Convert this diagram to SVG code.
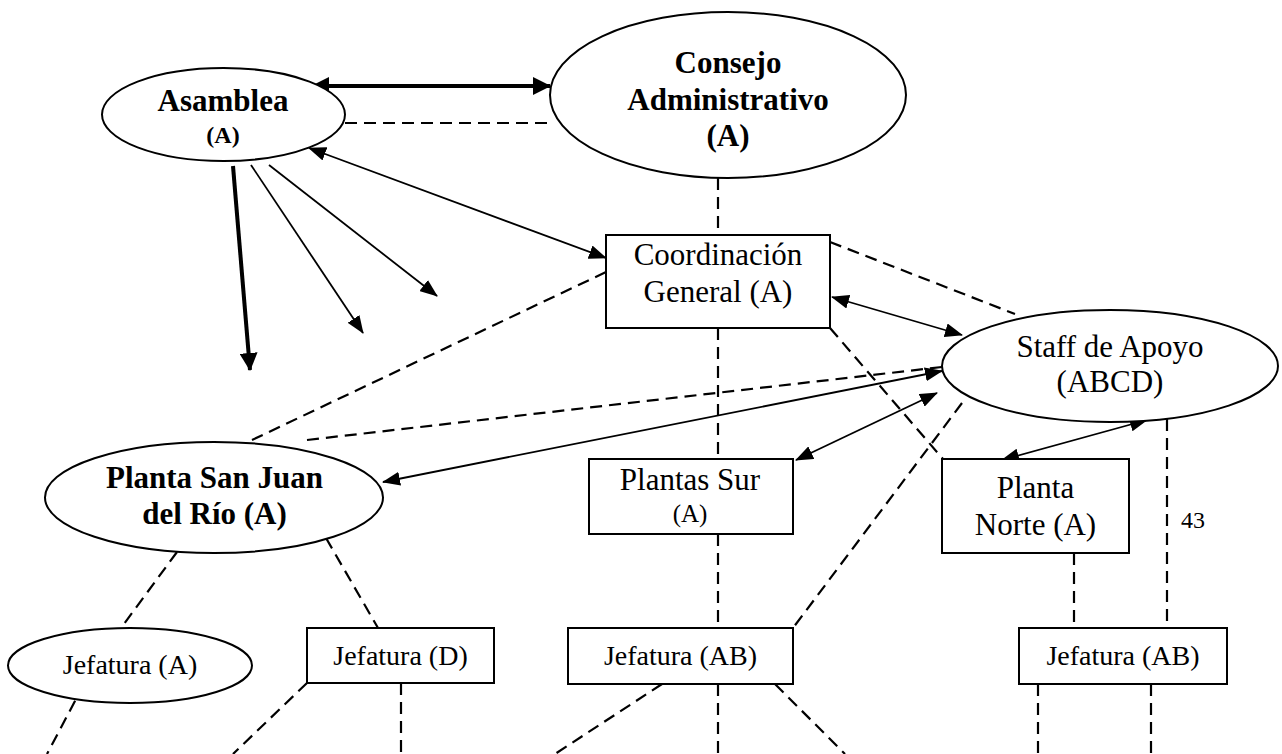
<svg xmlns="http://www.w3.org/2000/svg" width="1282" height="754" viewBox="0 0 1282 754">
  <style>
    .shape { fill: #ffffff; stroke: #000000; stroke-width: 2; }
    .lbl { font-family: "Liberation Serif", "Times New Roman", serif; fill: #000000; text-anchor: middle; }
    .b { font-weight: bold; }
    .f31 { font-size: 31px; }
    .f28 { font-size: 28px; }
    .f25 { font-size: 25px; }
    .f24 { font-size: 24px; }
    .dash { fill: none; stroke: #000000; stroke-width: 2.2; stroke-dasharray: 12 7; }
    .thin { fill: none; stroke: #000000; stroke-width: 1.8; }
    .thick { fill: none; stroke: #000000; stroke-width: 4; }
  </style>
  <defs>
    <marker id="ah" markerUnits="userSpaceOnUse" viewBox="0 0 18 14" markerWidth="18" markerHeight="14" refX="17" refY="7" orient="auto-start-reverse">
      <path d="M0,0 L18,7 L0,14 Z" fill="#000000"/>
    </marker>
    <marker id="ahb" markerUnits="userSpaceOnUse" viewBox="0 0 18 18" markerWidth="18" markerHeight="18" refX="17" refY="9" orient="auto-start-reverse">
      <path d="M0,0 L18,9 L0,18 Z" fill="#000000"/>
    </marker>
  </defs>

  <rect x="0" y="0" width="1282" height="754" fill="#ffffff"/>

  <!-- connectors -->
  <g id="connectors">
    <!-- Asamblea / Consejo -->
    <line class="thick" x1="312" y1="86" x2="550" y2="86" marker-start="url(#ahb)" marker-end="url(#ahb)"/>
    <line class="dash" x1="345" y1="123" x2="550" y2="123"/>
    <!-- arrows leaving Asamblea -->
    <line class="thick" x1="233" y1="166" x2="250" y2="370" marker-end="url(#ahb)"/>
    <line class="thin" x1="251" y1="165" x2="363" y2="333" marker-end="url(#ah)"/>
    <line class="thin" x1="269" y1="165" x2="437" y2="296" marker-end="url(#ah)"/>
    <line class="thin" x1="309" y1="148" x2="606" y2="258" marker-start="url(#ah)" marker-end="url(#ah)"/>
    <!-- Consejo to Coordinación -->
    <line class="dash" x1="718" y1="178" x2="718" y2="235"/>
    <!-- Coordinación links -->
    <line class="dash" x1="606" y1="272" x2="252" y2="440"/>
    <line class="dash" x1="830" y1="242" x2="1015" y2="314"/>
    <line class="thin" x1="832" y1="297" x2="962" y2="335" marker-start="url(#ah)" marker-end="url(#ah)"/>
    <line class="dash" x1="830" y1="328" x2="943" y2="459"/>
    <line class="dash" x1="718" y1="328" x2="718" y2="459"/>
    <line class="dash" x1="718" y1="534" x2="718" y2="628"/>
    <!-- Staff de Apoyo links -->
    <line class="dash" x1="307" y1="440" x2="942" y2="367"/>
    <line class="thin" x1="383" y1="482" x2="942" y2="371" marker-start="url(#ah)" marker-end="url(#ah)"/>
    <line class="thin" x1="796" y1="460" x2="937" y2="393" marker-start="url(#ah)" marker-end="url(#ah)"/>
    <line class="dash" x1="962" y1="403" x2="793" y2="628"/>
    <line class="thin" x1="1147" y1="420" x2="1002" y2="460" marker-start="url(#ah)" marker-end="url(#ah)"/>
    <line class="dash" x1="1167" y1="419" x2="1167" y2="628"/>
    <line class="dash" x1="1074" y1="553" x2="1074" y2="628"/>
    <!-- Planta San Juan del Río to its Jefaturas -->
    <line class="dash" x1="177" y1="552" x2="121" y2="628"/>
    <line class="dash" x1="326" y1="538" x2="378" y2="628"/>
    <!-- lines leaving the Jefaturas -->
    <line class="dash" x1="84" y1="684" x2="47" y2="754"/>
    <line class="dash" x1="307" y1="683" x2="233" y2="754"/>
    <line class="dash" x1="401" y1="683" x2="401" y2="754"/>
    <line class="dash" x1="662" y1="684" x2="555" y2="754"/>
    <line class="dash" x1="718" y1="684" x2="718" y2="754"/>
    <line class="dash" x1="775" y1="684" x2="845" y2="754"/>
    <line class="dash" x1="1038" y1="684" x2="1038" y2="754"/>
    <line class="dash" x1="1151" y1="684" x2="1151" y2="754"/>
  </g>

  <g id="asamblea">
    <ellipse class="shape" cx="223.5" cy="114.5" rx="121.5" ry="46.5"/>
    <text class="lbl b f31" x="223" y="111">Asamblea</text>
    <text class="lbl b f24" x="223" y="143">(A)</text>
  </g>

  <g id="consejo">
    <ellipse class="shape" cx="728" cy="95" rx="178" ry="83"/>
    <text class="lbl b f31" x="728" y="73">Consejo</text>
    <text class="lbl b f31" x="728" y="110">Administrativo</text>
    <text class="lbl b f31" x="728" y="146">(A)</text>
  </g>

  <g id="coordinacion">
    <rect class="shape" x="606" y="235" width="224" height="93"/>
    <text class="lbl f31" x="718" y="265">Coordinación</text>
    <text class="lbl f31" x="718" y="302">General (A)</text>
  </g>

  <g id="staff">
    <ellipse class="shape" cx="1110" cy="366" rx="168" ry="56"/>
    <text class="lbl f31" x="1110" y="357">Staff de Apoyo</text>
    <text class="lbl f31" x="1110" y="392">(ABCD)</text>
  </g>

  <g id="planta-san-juan">
    <ellipse class="shape" cx="214" cy="497.5" rx="169" ry="55.5"/>
    <text class="lbl b f31" x="214.5" y="488">Planta San Juan</text>
    <text class="lbl b f31" x="214.5" y="524">del Río (A)</text>
  </g>

  <g id="plantas-sur">
    <rect class="shape" x="589" y="459" width="204" height="75"/>
    <text class="lbl f31" x="690" y="490">Plantas Sur</text>
    <text class="lbl f25" x="690" y="522">(A)</text>
  </g>

  <g id="planta-norte">
    <rect class="shape" x="942" y="459" width="187" height="94"/>
    <text class="lbl f31" x="1035.5" y="498">Planta</text>
    <text class="lbl f31" x="1035.5" y="535">Norte (A)</text>
  </g>

  <g id="jefatura-a">
    <ellipse class="shape" cx="130" cy="665.5" rx="122" ry="37.5"/>
    <text class="lbl f28" x="130" y="674">Jefatura (A)</text>
  </g>

  <g id="jefatura-d">
    <rect class="shape" x="307" y="628" width="187" height="55"/>
    <text class="lbl f28" x="400.5" y="665">Jefatura (D)</text>
  </g>

  <g id="jefatura-ab-sur">
    <rect class="shape" x="568" y="628" width="225" height="56"/>
    <text class="lbl f28" x="680.5" y="665">Jefatura (AB)</text>
  </g>

  <g id="jefatura-ab-norte">
    <rect class="shape" x="1019" y="628" width="208" height="56"/>
    <text class="lbl f28" x="1123" y="665">Jefatura (AB)</text>
  </g>

  <g id="page-number">
    <text class="lbl f24" x="1193" y="528">43</text>
  </g>
</svg>
